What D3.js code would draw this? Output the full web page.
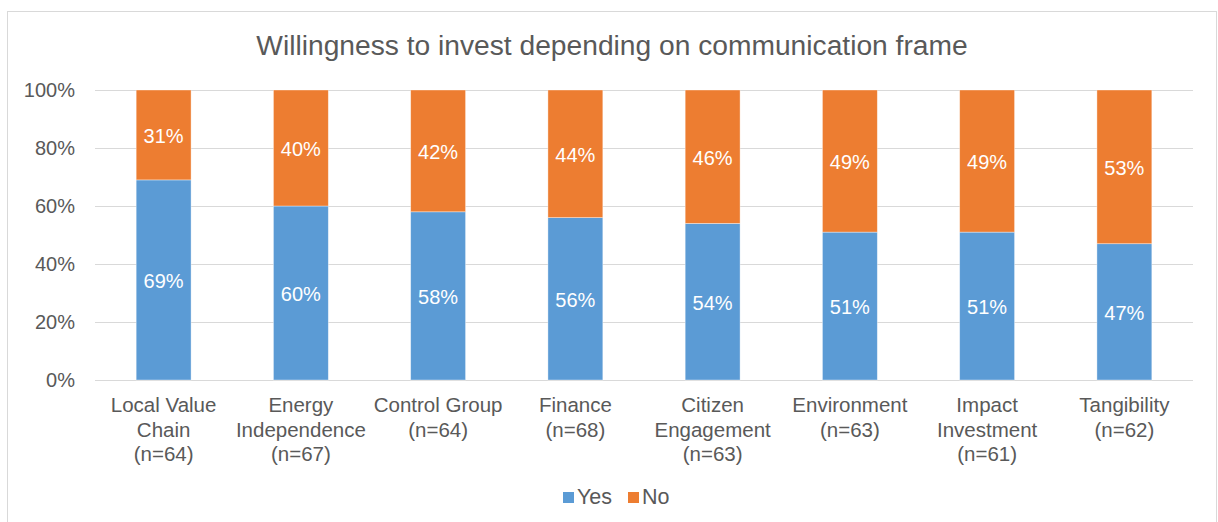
<!DOCTYPE html>
<html lang="en">
<head>
<meta charset="UTF-8">
<title>Willingness to invest</title>
<script src="https://cdn.jsdelivr.net/npm/d3@7"></script>
<style>
body { margin: 0; background: #fff; }
text { font-family: "Liberation Sans", Arial, sans-serif; }
</style>
</head>
<body>
<div id="chart"></div>
<script>
const categories = [
    ["Local Value", "Chain", "(n=64)"],
    ["Energy", "Independence", "(n=67)"],
    ["Control Group", "(n=64)"],
    ["Finance", "(n=68)"],
    ["Citizen", "Engagement", "(n=63)"],
    ["Environment", "(n=63)"],
    ["Impact", "Investment", "(n=61)"],
    ["Tangibility", "(n=62)"]
];
const yes = [69, 60, 58, 56, 54, 51, 51, 47];
const no = [31, 40, 42, 44, 46, 49, 49, 53];
const seriesNames = ["Yes", "No"];
const yTicks = [0, 20, 40, 60, 80, 100];

const width = 1218, height = 522;
const margin = {left: 95, right: 25, top: 90, bottom: 142};
const colors = {Yes: "#5b9bd5", No: "#ed7d31"};
const textColor = "#595959";

const svg = d3.select("#chart").append("svg")
    .attr("width", width)
    .attr("height", height);

// chart frame
svg.append("rect")
    .attr("x", 7.5).attr("y", 11.5)
    .attr("width", 1209).attr("height", 530)
    .attr("fill", "#fff")
    .attr("stroke", "#d9d9d9");

svg.append("text")
    .attr("x", 612).attr("y", 55)
    .attr("text-anchor", "middle")
    .attr("font-size", 28.2)
    .attr("fill", textColor)
    .text("Willingness to invest depending on communication frame");

const x = d3.scaleBand()
    .domain(d3.range(categories.length))
    .range([margin.left, width - margin.right])
    .paddingInner(0.6)
    .paddingOuter(0.3);

const y = d3.scaleLinear()
    .domain([0, 100])
    .range([height - margin.bottom, margin.top]);

// gridlines
svg.append("g")
    .selectAll("line")
    .data(yTicks)
    .join("line")
    .attr("x1", margin.left).attr("x2", width - margin.right)
    .attr("y1", d => y(d) + 0.5).attr("y2", d => y(d) + 0.5)
    .attr("stroke", "#d9d9d9")
    .attr("stroke-width", 1);

// y axis labels
const yAxis = svg.append("g")
    .attr("transform", `translate(${margin.left - 20},0)`)
    .call(d3.axisLeft(y).tickValues(yTicks).tickFormat(d => d + "%").tickSize(0));
yAxis.select(".domain").remove();
yAxis.selectAll("text")
    .attr("font-size", 20)
    .attr("font-family", "Liberation Sans, Arial, sans-serif")
    .attr("fill", textColor)
    .attr("x", 0);

const stackData = yes.map((v, i) => ({i: i, Yes: v, No: no[i]}));
const stacked = d3.stack().keys(seriesNames)(stackData);

const layers = svg.append("g")
    .selectAll("g")
    .data(stacked)
    .join("g")
    .attr("fill", d => colors[d.key]);

layers.selectAll("rect")
    .data(d => d)
    .join("rect")
    .attr("x", d => x(d.data.i))
    .attr("width", x.bandwidth())
    .attr("y", d => y(d[1]))
    .attr("height", d => y(d[0]) - y(d[1]))
    .attr("stroke", "#ffffff")
    .attr("stroke-opacity", 0.5)
    .attr("stroke-width", 0.75);

layers.selectAll("text")
    .data(d => d)
    .join("text")
    .attr("x", d => x(d.data.i) + x.bandwidth() / 2)
    .attr("y", d => y((d[0] + d[1]) / 2) + 8)
    .attr("text-anchor", "middle")
    .attr("font-size", 20)
    .attr("fill", "#ffffff")
    .text(d => (d[1] - d[0]) + "%");

// category labels
const catG = svg.append("g")
    .selectAll("text")
    .data(categories)
    .join("text")
    .attr("x", (d, i) => x(i) + x.bandwidth() / 2)
    .attr("y", y(0) + 32)
    .attr("text-anchor", "middle")
    .attr("font-size", 20.5)
    .attr("fill", textColor);

catG.selectAll("tspan")
    .data(d => d)
    .join("tspan")
    .attr("x", function() { return this.parentNode.getAttribute("x"); })
    .attr("dy", (d, j) => j === 0 ? 0 : 24.5)
    .text(d => d);

// legend
const legend = svg.append("g")
    .attr("transform", "translate(563,504)");
const items = legend.selectAll("g")
    .data(seriesNames)
    .join("g")
    .attr("transform", (d, i) => `translate(${i * 65},0)`);
items.append("rect")
    .attr("x", 0).attr("y", -12)
    .attr("width", 11).attr("height", 11)
    .attr("fill", d => colors[d]);
items.append("text")
    .attr("x", 14).attr("y", 0)
    .attr("font-size", 21.5)
    .attr("fill", textColor)
    .text(d => d);
</script>
</body>
</html>
